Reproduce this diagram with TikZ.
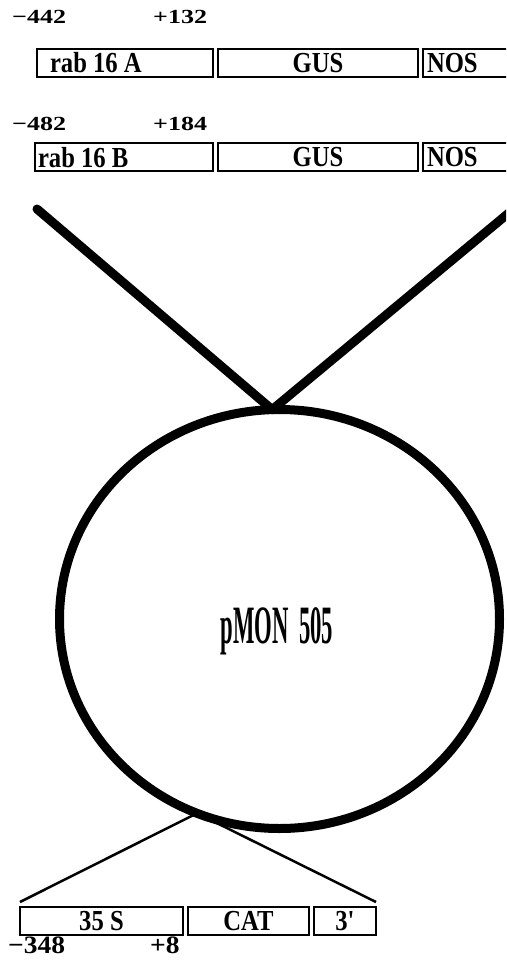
\documentclass[tikz,border=0pt]{standalone}
\usepackage{fontspec}
\setmainfont{Liberation Serif}
\usepackage{tikz}
\usetikzlibrary{positioning,shapes.geometric}

\newcommand{\cond}[1]{\scalebox{0.85}[1]{#1}}
\newcommand{\wide}[2]{\scalebox{#1}[1]{#2}}

\begin{document}
\begin{tikzpicture}[
        x=1pt, y=-1pt,
        node distance=5pt,
        seg/.style={draw, line width=2pt, minimum height=28pt, inner sep=0pt,
                    outer sep=0pt, font=\fontsize{29}{29}\selectfont\bfseries},
        coord/.style={anchor=base west, inner sep=0pt,
                      font=\fontsize{20}{20}\selectfont\bfseries},
        coordlow/.style={coord, font=\fontsize{25}{25}\selectfont\bfseries},
        arm/.style={line width=9pt, line cap=round},
        zoomline/.style={line width=2.5pt},
    ]
        \clip (0,0) rectangle (506,965);
        % construct A
        \node[coord] (a5) at (12,24) {\wide{1.3}{−442}};
        \node[coord] (a3) at (153,24) {\wide{1.3}{+132}};
        \node[seg, anchor=west] (rabA) at (37,63)
            {\makebox[176pt][l]{\hspace{13pt}\cond{rab 16 A}}};
        \node[seg, minimum width=200pt, right=of rabA] (gusA) {\cond{GUS}};
        \node[seg, right=of gusA] (nosA)
            {\makebox[110pt][l]{\hspace{4pt}\cond{NOS}}};
        % construct B
        \node[coord] (b5) at (12,131) {\wide{1.3}{−482}};
        \node[coord] (b3) at (153,131) {\wide{1.3}{+184}};
        \node[seg, anchor=west] (rabB) at (35,157.5)
            {\makebox[178pt][l]{\hspace{3pt}\cond{rab 16 B}}};
        \node[seg, minimum width=200pt, right=of rabB] (gusB) {\cond{GUS}};
        \node[seg, right=of gusB] (nosB)
            {\makebox[110pt][l]{\hspace{4pt}\cond{NOS}}};
        % vector
        \node[draw, ellipse, line width=9pt, minimum width=440pt, minimum height=419pt,
              inner sep=0pt, outer sep=0pt] (plasmid) at (279.5,619) {};
        \node[anchor=base, inner sep=0pt] (pmon) at (277,643)
            {\scalebox{0.42}[1]{\fontsize{54}{54}\selectfont\bfseries pMON\hspace{0.45em}505}};
        \coordinate (armL) at (37,209);
        \coordinate (armR) at (522,202);
        \draw[arm] (armL) -- (plasmid.92);
        \draw[arm] (armR) -- (plasmid.92);
        % 35S cassette
        \node[seg, minimum width=163pt, anchor=west] (s35) at (20,921) {\cond{35 S}};
        \node[seg, minimum width=121pt, right=of s35] (cat) {\cond{CAT}};
        \node[seg, minimum width=62pt, right=of cat] (utr) {\cond{3\textquotesingle}};
        \node[coordlow] (c5) at (8,953) {\wide{1.1}{−348}};
        \node[coordlow] (c3) at (150,953) {\wide{1.1}{+8}};
        \draw[zoomline] (plasmid.247) -- ([yshift=5pt]s35.north west);
        \draw[zoomline] (plasmid.247) -- ([yshift=5pt]utr.north east);
    \end{tikzpicture}
\end{document}
